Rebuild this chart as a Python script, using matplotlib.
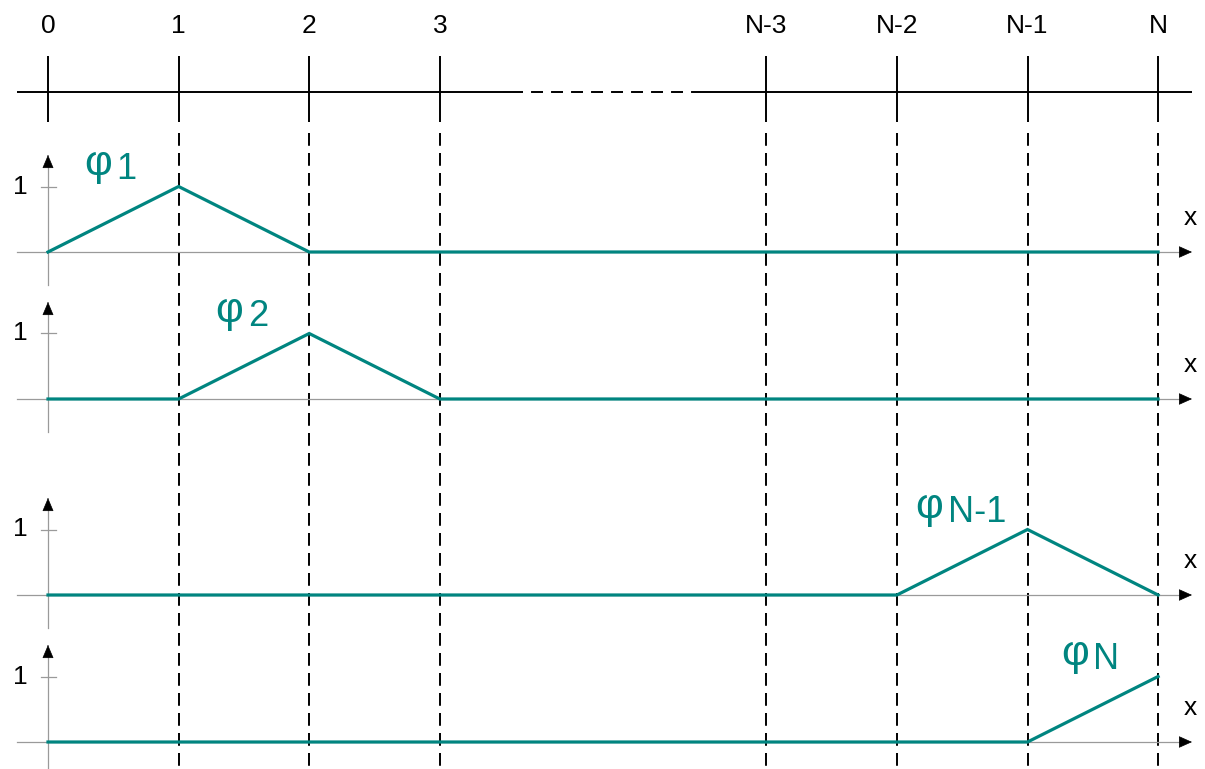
import matplotlib
matplotlib.use("Agg")
import matplotlib.pyplot as plt

plt.rcParams['font.family'] = ['Liberation Sans', 'DejaVu Sans']
plt.rcParams['lines.scale_dashes'] = False

# ---- data ----
node_labels = ["0", "1", "2", "3", "N-3", "N-2", "N-1", "N"]
phi_names = ["1", "2", "N-1", "N"]
phi1 = [0, 1, 0, 0, 0, 0, 0, 0]
phi2 = [0, 0, 1, 0, 0, 0, 0, 0]
phiNm1 = [0, 0, 0, 0, 0, 0, 1, 0]
phiN = [0, 0, 0, 0, 0, 0, 0, 1]
phi_series = [phi1, phi2, phiNm1, phiN]
peak_tick = 1
axis_name = "x"

# ---- layout ----
node_pos = [0, 1, 2, 3, 5.5, 6.5, 7.5, 8.5]
W, H = 1205, 769
PX_X0, PX_UNIT = 48, 130.6
XLIM = (-PX_X0 / PX_UNIT, (W - PX_X0) / PX_UNIT)
def px2x(px):
    return (px - PX_X0) / PX_UNIT

baselines_px = [252, 399, 595, 742]
UY = 65.5
label_anchor = [0.49, 1.495, 6.855, 7.97]

TEAL = "#008580"
GRAY = "#9a9a9a"
FS = 19

fig = plt.figure(figsize=(W / 100, H / 100), dpi=100)

# overlay axes (pixel y from top)
ax0 = fig.add_axes([0, 0, 1, 1])
ax0.set_xlim(XLIM)
ax0.set_ylim(H, 0)
ax0.set_axis_off()

# top number line
y_top = 92
ax0.plot([px2x(17), px2x(518)], [y_top, y_top], color="k", lw=1.4, solid_capstyle="butt")
ax0.plot([px2x(518), px2x(702)], [y_top, y_top], color="k", lw=1.4,
         linestyle=(5.0, (8.6, 5.8)), dash_capstyle="butt")
ax0.plot([px2x(702), px2x(1192)], [y_top, y_top], color="k", lw=1.4, solid_capstyle="butt")

for i, (lab, p) in enumerate(zip(node_labels, node_pos)):
    ax0.text(p, 26, lab, ha="center", va="center", fontsize=FS)
    ax0.plot([p, p], [56, 122], color="k", lw=1.4, solid_capstyle="butt")
    if i > 0:
        ax0.plot([p, p], [133, H + 5], color="k", lw=1.4,
                 linestyle=(0, (9.2, 5.2)), dash_capstyle="butt")

# panels
for k, (b, vals, name) in enumerate(zip(baselines_px, phi_series, phi_names)):
    below, above = 35, 115
    ax = fig.add_axes([0, 1 - (b + below) / H, 1, (below + above) / H])
    ax.set_xlim(XLIM)
    ax.set_ylim(-below / UY, above / UY)
    ax.set_axis_off()
    ax.patch.set_visible(False)
    # x axis
    x_tip = px2x(1192)
    ax.plot([px2x(17), x_tip - 0.05], [0, 0], color=GRAY, lw=0.9)
    ax.annotate("", xy=(x_tip, 0), xytext=(x_tip - 0.02, 0),
                arrowprops=dict(arrowstyle="-|>,head_length=8.5,head_width=3.8",
                                mutation_scale=1, color="k", lw=0.5,
                                shrinkA=0, shrinkB=0))
    # y axis
    y_tip = 97 / UY
    ax.plot([0, 0], [-33 / UY, y_tip - 0.08], color=GRAY, lw=0.9)
    ax.annotate("", xy=(0, y_tip), xytext=(0, y_tip - 0.02),
                arrowprops=dict(arrowstyle="-|>,head_length=8.5,head_width=3.6",
                                mutation_scale=1, color="k", lw=0.5,
                                shrinkA=0, shrinkB=0))
    # tick at 1
    ax.plot([px2x(41), px2x(56)], [peak_tick, peak_tick], color=GRAY, lw=0.9)
    ax.text(px2x(20), peak_tick, str(peak_tick), ha="center", va="center", fontsize=FS)
    ax.text(px2x(1190), 34 / UY, axis_name, ha="center", va="center", fontsize=FS)
    # basis function
    ax.plot(node_pos, vals, color=TEAL, lw=2.3, solid_joinstyle="miter", zorder=3)
    # label
    ax.text(label_anchor[k], 1.17, "\u03c6", ha="right", va="baseline",
            fontsize=31, color=TEAL)
    ax.text(label_anchor[k] + 0.035, 1.12, name, ha="left", va="baseline",
            fontsize=26, color=TEAL)

fig.savefig("out.png", dpi=100)
